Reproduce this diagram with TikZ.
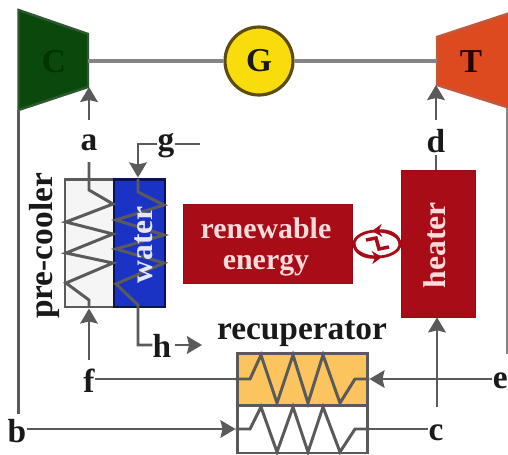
\documentclass[tikz,border=0pt]{standalone}
\usepackage{fontspec}
\setmainfont{Liberation Serif}
\usetikzlibrary{arrows.meta,positioning}
\definecolor{pipegray}{HTML}{5A5A5A}
\definecolor{shaftgray}{HTML}{858585}
\definecolor{compgreen}{HTML}{0A480C}
\definecolor{turbred}{HTML}{DD4A20}
\definecolor{genyellow}{HTML}{F8DC0C}
\definecolor{genrim}{HTML}{5C4C14}
\definecolor{waterblue}{HTML}{1B33C4}
\definecolor{heatred}{HTML}{A80C16}
\definecolor{recorange}{HTML}{FBC45F}
\tikzset{
  lbl/.style={font=\bfseries\fontsize{19}{21}\selectfont,inner sep=0pt,text=black!90},
  pipe/.style={draw=pipegray,line width=1.7pt},
  flow/.style={draw=pipegray,line width=1.5pt,-{Stealth[length=0.3cm,width=0.35cm,inset=0.04cm]}},
  box/.style={draw=pipegray,line width=1.7pt,inner sep=0pt},
  redbox/.style={fill=heatred,draw=heatred!90!black,inner sep=0pt},
  uplbl/.style={rotate=90,inner sep=0pt,font=\bfseries\fontsize{18}{20}\selectfont}
}
\begin{document}
\begin{tikzpicture}[x=0.02cm,y=-0.02cm]
\useasboundingbox (0,0) rectangle (508,454);
% machines on the shaft
\draw[fill=compgreen,draw=compgreen!70!gray,line width=1.4pt] (18.5,10) -- (88,34) -- (88,87) coordinate (Cin) -- (18.5,110) coordinate (Cout) -- cycle;
\draw[fill=turbred,draw=turbred!70!gray,line width=1.4pt] (437,37) -- (510,13) -- (510,108) -- (437,85) coordinate (Tin) -- cycle;
\node[lbl,text=black!80!green] (C) at (54,62) {C};
\node[lbl,text=black!85!red] (T) at (471,62) {T};
\coordinate (Cshaft) at (88,61);
\coordinate (Tshaft) at (437,61);
\node[circle,fill=genyellow,draw=genrim,line width=1.8pt,minimum size=1.36cm,inner sep=0pt,lbl] (G) at (259,61) {G};
\draw[draw=shaftgray,line width=1.9pt] (Cshaft) -- (G) -- (Tshaft);
% pre-cooler and water side
\node[box,fill=black!4,minimum width=0.98cm,minimum height=2.56cm] (precooler) at (89.5,243) {};
\node[box,fill=waterblue,draw=black!60!waterblue,minimum width=1.02cm,minimum height=2.56cm] (waterbox) at (139.5,243) {};
\node[lbl] (a) at (89,143) {a};
\node[lbl] (g) at (166,146) {g};
\node[lbl] (f) at (89,381) {f};
\node[lbl] (h) at (162,346) {h};
\node[lbl,rotate=90] (prelbl) at (44,246) {pre-cooler};
\coordinate (gend) at (200,144);
\coordinate (gleft) at (138,144);
\coordinate (hcorner) at (138,345);
\coordinate (hend) at (202,345);
\coordinate (atop) at (89,162);
\coordinate (fup) at (89,360);
\coordinate (aup) at (89,120);
\draw[pipe] (atop) -- (89,190) -- (113,204) -- (66,222) -- (113,234) -- (66,253) -- (113,263) -- (66,283) -- (89,300) -- (89,307);
\draw[pipe] (138,179) -- (138,192) -- (164,205) -- (116,220) -- (164,235) -- (116,249) -- (164,263) -- (116,284) -- (138,305) -- (hcorner) -- (hcorner -| h.west);
\draw[flow] (aup) -- (aup |- Cin);
\draw[flow] (fup) -- (fup |- precooler.south);
\draw[pipe] (gend) -- (gend -| g.east);
\draw[flow] (gleft -| g.west) -- (gleft) -- (gleft |- waterbox.north);
\draw[flow] (hend -| h.east) ++(3,0) -- (hend);
\node[uplbl,text=white!90!blue] (waterlbl) at (144,245) {water};
% heat source
\node[redbox,minimum width=3.38cm,minimum height=1.58cm] (renew) at (267.5,243.5) {};
\node[inner sep=0pt,text=white!86!red,font=\bfseries\fontsize{17}{17.5}\selectfont,align=center] (renewlbl) at (266,247) {renewable\\energy};
\node[redbox,minimum width=1.48cm,minimum height=2.94cm] (heater) at (438,243.5) {};
\node[uplbl,text=white!86!red] (heaterlbl) at (435,245) {heater};
\draw[heatred,line width=1.6pt,fill=white] (377,244) ellipse [x radius=23,y radius=13];
\draw[heatred,line width=1.6pt,-{Stealth[length=0.2cm,width=0.26cm]}] (400,244) .. controls (399,235) and (390,230) .. (372,231);
\draw[heatred,line width=1.6pt,-{Stealth[length=0.2cm,width=0.26cm]}] (354,244) .. controls (355,253) and (364,258) .. (382,257);
\draw[heatred,line width=2pt] (366,240) -- (376,238) -- (379,249) -- (389,247);
% labels on the right
\node[lbl] (d) at (436,141) {d};
\node[lbl] (c) at (436,433) {c};
\node[lbl,anchor=east] (e) at (508,381) {e};
\node[lbl] (b) at (17,431) {b};
\node[lbl] (reclbl) at (302,334) {recuperator};
\coordinate (dup) at (436,120);
\coordinate (ddown) at (436,155);
\coordinate (cup) at (437,407);
\coordinate (eup) at (507,108);
\coordinate (edown) at (507,354);
\coordinate (bup) at (18.5,414);
\draw[flow] (dup) -- (dup |- Tin);
\draw[pipe] (ddown) -- (ddown |- heater.north);
\draw[draw=shaftgray,line width=1.1pt] (eup) -- (edown);
% recuperator
\node[box,fill=recorange,minimum width=2.62cm,minimum height=1.04cm] (hotside) at (302.5,379) {};
\node[box,fill=white,minimum width=2.62cm,minimum height=0.96cm] (coldside) at (302.5,429) {};
\draw[pipe] (hotside.west) -- (250,379) -- (261,355) -- (277,403) -- (293,355) -- (308,403) -- (323,355) -- (340,403) -- (355,379) -- (hotside.east);
\draw[pipe] (coldside.west) -- (250,429) -- (261,407) -- (277,452) -- (293,407) -- (308,452) -- (323,407) -- (340,452) -- (355,429) -- (coldside.east);
\draw[pipe] (coldside.east) -- (coldside.east -| c.west);
\draw[pipe] (hotside.west) -- (hotside.west -| f.east);
\draw[flow] (hotside.east -| e.west) -- (hotside.east);
\draw[flow] (cup) -- (cup |- heater.south);
\draw[flow] (coldside.west -| b.east) -- (coldside.west);
\draw[pipe] (Cout) -- (bup);
\end{tikzpicture}
\end{document}
